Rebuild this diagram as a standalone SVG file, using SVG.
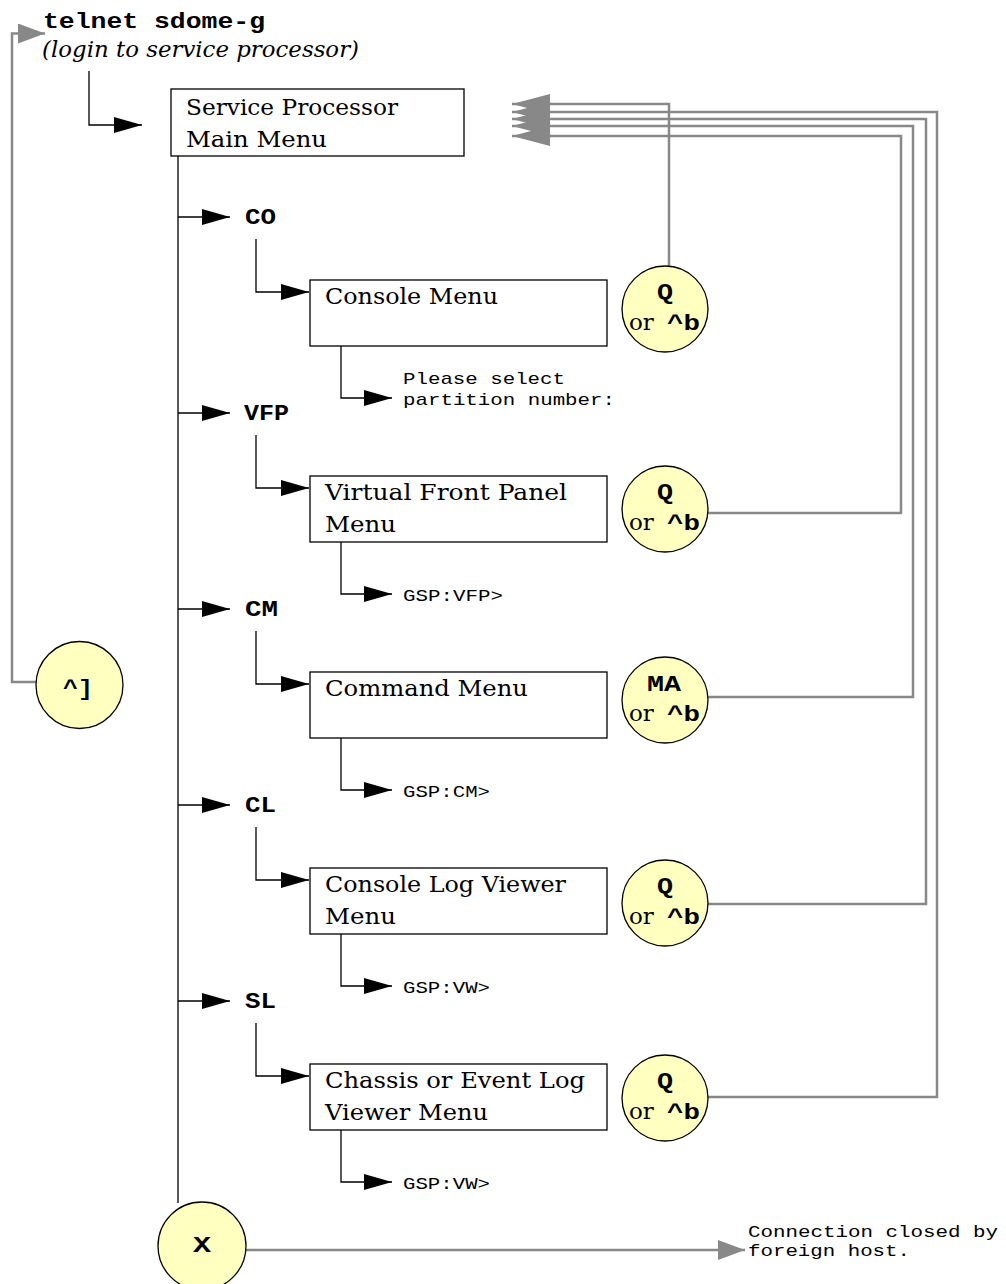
<svg xmlns="http://www.w3.org/2000/svg" width="1006" height="1284" viewBox="0 0 1006 1284">
<style>
.box{fill:#fff;stroke:#000;stroke-width:1.3}
.ln{fill:none;stroke:#000;stroke-width:1.3}
.gl{fill:none;stroke:#888;stroke-width:2.5}
.key{fill:#ffffc0;stroke:#000;stroke-width:1.3}
.sf{font-family:"DejaVu Serif",serif;font-size:23px;fill:#000}
.it{font-family:"DejaVu Serif",serif;font-style:italic;font-size:22px;fill:#000}
.mb{font-family:"Liberation Mono",monospace;font-weight:bold;font-size:22px;fill:#000}
.m{font-family:"Liberation Mono",monospace;font-size:17px;fill:#000}
</style>
<defs>
<marker id="ab" markerUnits="userSpaceOnUse" markerWidth="28" markerHeight="16" refX="28" refY="8" orient="auto"><path d="M0,0 L28,8 L0,16 z" fill="#000"/></marker>
<marker id="ag" markerUnits="userSpaceOnUse" markerWidth="27" markerHeight="20" refX="27" refY="10" orient="auto"><path d="M0,0 L27,10 L0,20 z" fill="#888"/></marker>
<marker id="agb" markerUnits="userSpaceOnUse" markerWidth="38" markerHeight="20" refX="38" refY="10" orient="auto"><path d="M0,0 L38,10 L0,20 z" fill="#888"/></marker>
</defs>

<g id="connectors">
<path class="ln" d="M89,71 V125 H142" marker-end="url(#ab)"/>
<path class="ln" d="M178,156 V1203"/>
<path class="ln" d="M178,217 H230" marker-end="url(#ab)"/>
<path class="ln" d="M178,413 H230" marker-end="url(#ab)"/>
<path class="ln" d="M178,609 H230" marker-end="url(#ab)"/>
<path class="ln" d="M178,805 H230" marker-end="url(#ab)"/>
<path class="ln" d="M178,1001 H230" marker-end="url(#ab)"/>
<path class="ln" d="M256,239 V292 H309" marker-end="url(#ab)"/>
<path class="ln" d="M256,435 V488 H309" marker-end="url(#ab)"/>
<path class="ln" d="M256,631 V684 H309" marker-end="url(#ab)"/>
<path class="ln" d="M256,827 V880 H309" marker-end="url(#ab)"/>
<path class="ln" d="M256,1023 V1076 H309" marker-end="url(#ab)"/>
<path class="ln" d="M341,346 V398 H392" marker-end="url(#ab)"/>
<path class="ln" d="M341,542 V594 H392" marker-end="url(#ab)"/>
<path class="ln" d="M341,738 V790 H392" marker-end="url(#ab)"/>
<path class="ln" d="M341,934 V986 H392" marker-end="url(#ab)"/>
<path class="ln" d="M341,1130 V1182 H392" marker-end="url(#ab)"/>
<path class="gl" d="M36,682 H12 V33.5 H45" marker-end="url(#ag)"/>
<path class="gl" d="M669,266 V104 H512" marker-end="url(#agb)"/>
<path class="gl" d="M708,513 H901 V136 H512" marker-end="url(#agb)"/>
<path class="gl" d="M708,697 H913 V126 H512" marker-end="url(#agb)"/>
<path class="gl" d="M708,904 H926 V119 H512" marker-end="url(#agb)"/>
<path class="gl" d="M708,1097 H937 V112 H512" marker-end="url(#agb)"/>
<path class="gl" d="M246,1250 H745" marker-end="url(#ag)"/>
</g>

<g id="start">
<text class="mb" x="43" y="28" textLength="222" lengthAdjust="spacingAndGlyphs">telnet sdome-g</text>
<text class="it" x="42" y="57" textLength="317" lengthAdjust="spacingAndGlyphs">(login to service processor)</text>
</g>

<g id="main-menu">
<rect class="box" x="171" y="89" width="293" height="67"/>
<text class="sf" x="186" y="115" textLength="212" lengthAdjust="spacingAndGlyphs">Service Processor</text>
<text class="sf" x="186" y="147" textLength="141" lengthAdjust="spacingAndGlyphs">Main Menu</text>
</g>

<g id="label-co"><text class="mb" x="245" y="224" textLength="31" lengthAdjust="spacingAndGlyphs">CO</text></g>
<g id="label-vfp"><text class="mb" x="244" y="420" textLength="45" lengthAdjust="spacingAndGlyphs">VFP</text></g>
<g id="label-cm"><text class="mb" x="245" y="616" textLength="33" lengthAdjust="spacingAndGlyphs">CM</text></g>
<g id="label-cl"><text class="mb" x="245" y="812" textLength="31" lengthAdjust="spacingAndGlyphs">CL</text></g>
<g id="label-sl"><text class="mb" x="245" y="1008" textLength="31" lengthAdjust="spacingAndGlyphs">SL</text></g>

<g id="console-menu">
<rect class="box" x="310" y="280" width="297" height="66"/>
<text class="sf" x="325" y="304" textLength="173" lengthAdjust="spacingAndGlyphs">Console Menu</text>
</g>
<g id="vfp-menu">
<rect class="box" x="310" y="476" width="297" height="66"/>
<text class="sf" x="325" y="500" textLength="242" lengthAdjust="spacingAndGlyphs">Virtual Front Panel</text>
<text class="sf" x="325" y="532" textLength="71" lengthAdjust="spacingAndGlyphs">Menu</text>
</g>
<g id="command-menu">
<rect class="box" x="310" y="672" width="297" height="66"/>
<text class="sf" x="325" y="696" textLength="203" lengthAdjust="spacingAndGlyphs">Command Menu</text>
</g>
<g id="console-log-menu">
<rect class="box" x="310" y="868" width="297" height="66"/>
<text class="sf" x="325" y="892" textLength="241" lengthAdjust="spacingAndGlyphs">Console Log Viewer</text>
<text class="sf" x="325" y="924" textLength="71" lengthAdjust="spacingAndGlyphs">Menu</text>
</g>
<g id="chassis-log-menu">
<rect class="box" x="310" y="1064" width="297" height="66"/>
<text class="sf" x="325" y="1088" textLength="260" lengthAdjust="spacingAndGlyphs">Chassis or Event Log</text>
<text class="sf" x="325" y="1120" textLength="163" lengthAdjust="spacingAndGlyphs">Viewer Menu</text>
</g>

<g id="prompt-co">
<text class="m" x="403" y="384" textLength="162" lengthAdjust="spacingAndGlyphs">Please select</text>
<text class="m" x="403" y="405" textLength="212" lengthAdjust="spacingAndGlyphs">partition number:</text>
</g>
<g id="prompt-vfp"><text class="m" x="403" y="601" textLength="100" lengthAdjust="spacingAndGlyphs">GSP:VFP&gt;</text></g>
<g id="prompt-cm"><text class="m" x="403" y="797" textLength="87" lengthAdjust="spacingAndGlyphs">GSP:CM&gt;</text></g>
<g id="prompt-cl"><text class="m" x="403" y="993" textLength="87" lengthAdjust="spacingAndGlyphs">GSP:VW&gt;</text></g>
<g id="prompt-sl"><text class="m" x="403" y="1189" textLength="87" lengthAdjust="spacingAndGlyphs">GSP:VW&gt;</text></g>

<g id="key-co">
<circle class="key" cx="665" cy="309" r="43"/>
<text class="mb" x="657" y="299" textLength="16" lengthAdjust="spacingAndGlyphs">Q</text>
<text class="sf" x="629" y="330">or</text>
<text class="mb" x="667" y="330" textLength="33" lengthAdjust="spacingAndGlyphs">^b</text>
</g>
<g id="key-vfp">
<circle class="key" cx="665" cy="509" r="43"/>
<text class="mb" x="657" y="499" textLength="16" lengthAdjust="spacingAndGlyphs">Q</text>
<text class="sf" x="629" y="530">or</text>
<text class="mb" x="667" y="530" textLength="33" lengthAdjust="spacingAndGlyphs">^b</text>
</g>
<g id="key-cm">
<circle class="key" cx="665" cy="700" r="43"/>
<text class="mb" x="647" y="691" textLength="34" lengthAdjust="spacingAndGlyphs">MA</text>
<text class="sf" x="629" y="721">or</text>
<text class="mb" x="667" y="721" textLength="33" lengthAdjust="spacingAndGlyphs">^b</text>
</g>
<g id="key-cl">
<circle class="key" cx="665" cy="903" r="43"/>
<text class="mb" x="657" y="893" textLength="16" lengthAdjust="spacingAndGlyphs">Q</text>
<text class="sf" x="629" y="924">or</text>
<text class="mb" x="667" y="924" textLength="33" lengthAdjust="spacingAndGlyphs">^b</text>
</g>
<g id="key-sl">
<circle class="key" cx="665" cy="1098" r="43"/>
<text class="mb" x="657" y="1088" textLength="16" lengthAdjust="spacingAndGlyphs">Q</text>
<text class="sf" x="629" y="1119">or</text>
<text class="mb" x="667" y="1119" textLength="33" lengthAdjust="spacingAndGlyphs">^b</text>
</g>
<g id="key-escape">
<circle class="key" cx="79.5" cy="685" r="43.5"/>
<text class="mb" x="63" y="695" textLength="30" lengthAdjust="spacingAndGlyphs">^]</text>
</g>
<g id="key-x">
<circle class="key" cx="202" cy="1246" r="44"/>
<text class="mb" x="193" y="1252" textLength="18" lengthAdjust="spacingAndGlyphs">X</text>
</g>

<g id="closed-msg">
<text class="m" x="748" y="1237" textLength="250" lengthAdjust="spacingAndGlyphs">Connection closed by</text>
<text class="m" x="748" y="1256" textLength="162" lengthAdjust="spacingAndGlyphs">foreign host.</text>
</g>
</svg>
